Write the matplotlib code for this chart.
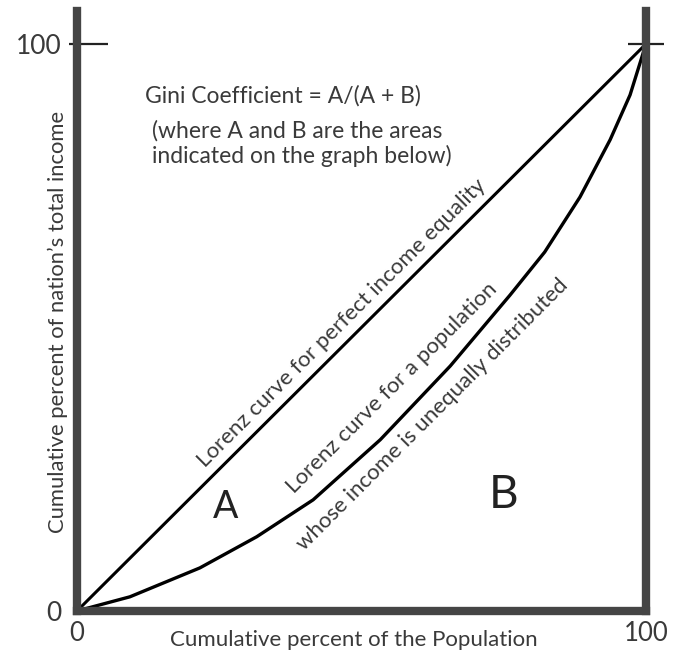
import matplotlib
matplotlib.use("Agg")
import matplotlib.pyplot as plt
from matplotlib.ticker import FixedLocator

# Datos (porcentajes acumulados)
equality_x = [0, 100]
equality_y = [0, 100]

lorenz_x = [0, 9.3, 21.6, 31.6, 41.5, 53.3, 65.6, 76.1, 82.2, 88.4, 93.7, 97.2, 100]
lorenz_y = [0, 2.5, 7.6, 13.1, 19.6, 30.2, 43.2, 55.7, 63.3, 73.0, 83.1, 91.0, 100]

tick_values = [0, 100]
tick_labels = ["0", "100"]

gini_lines = [
    "Gini Coefficient = A/(A + B)",
    "(where A and B are the areas",
    "indicated on the graph below)",
]
label_equality = "Lorenz curve for perfect income equality"
label_lorenz_1 = "Lorenz curve for a population"
label_lorenz_2 = "whose income is unequally distributed"
xlabel = "Cumulative percent of the Population"
ylabel = "Cumulative percent of nation\u2019s total income"

plt.rcParams["font.family"] = ["Lato", "DejaVu Sans"]

TEXT = "#3a3a3a"
SPINE = "#454545"

fig = plt.figure(figsize=(6.77, 6.52), dpi=100)
ax = fig.add_axes([0.1137, 0.0629, 0.8405, 0.9202])
ax.set_xlim(0, 100)
ax.set_ylim(0, 105.8)

# Curvas
ax.plot(equality_x, equality_y, color="black", lw=2.2, clip_on=False, zorder=3)
ax.plot(lorenz_x, lorenz_y, color="black", lw=2.4, clip_on=False, zorder=3,
        solid_joinstyle="round")

# Ejes gruesos
ax.spines["top"].set_visible(False)
for side in ["left", "right", "bottom"]:
    ax.spines[side].set_linewidth(6)
    ax.spines[side].set_color(SPINE)
    ax.spines[side].set_capstyle("projecting")
    ax.spines[side].set_zorder(4)

ax.set_xticks(tick_values)
ax.set_xticklabels(tick_labels)
ax.set_yticks(tick_values)
ax.set_yticklabels(tick_labels)
ax.tick_params(axis="x", length=0, pad=7, labelsize=18.5, labelcolor=TEXT)
ax.tick_params(axis="y", which="major", direction="in", length=22, width=1.6,
               color="#222222", pad=11, labelsize=19, labelcolor=TEXT)
ax.yaxis.remove_overlapping_locs = False
ax.yaxis.set_minor_locator(FixedLocator([100]))
ax.tick_params(axis="y", which="minor", direction="out", length=6, width=1.6,
               color="#222222")

# marca en 100 del lado derecho
sec = ax.secondary_yaxis("right")
sec.set_yticks([100])
sec.set_yticklabels([""])
sec.tick_params(direction="inout", length=26, width=1.6, color="#222222")
for s in sec.spines.values():
    s.set_visible(False)

# Textos
ax.text(11.95, 89.6, gini_lines[0], ha="left", va="baseline", fontsize=16.5, color=TEXT)
ax.text(13.2, 83.4, gini_lines[1], ha="left", va="baseline", fontsize=16.5, color=TEXT)
ax.text(13.2, 79.0, gini_lines[2], ha="left", va="baseline", fontsize=16.5, color=TEXT)

ax.text(46.6, 50.8, label_equality, rotation=45, ha="center", va="center",
        rotation_mode="anchor", fontsize=16, color=TEXT)
ax.text(55.4, 39.3, label_lorenz_1, rotation=45, ha="center", va="center",
        rotation_mode="anchor", fontsize=16, color=TEXT)
ax.text(62.4, 34.7, label_lorenz_2, rotation=45, ha="center", va="center",
        rotation_mode="anchor", fontsize=16, color=TEXT)

ax.text(26.2, 18.3, "A", ha="center", va="center", fontsize=27, color="#222222")
ax.text(75.0, 20.5, "B", ha="center", va="center", fontsize=33, color="#222222")

ax.text(0.487, -0.048, xlabel, transform=ax.transAxes, ha="center", va="center",
        fontsize=16, color=TEXT)
ax.text(-0.033, 0.482, ylabel, transform=ax.transAxes, rotation=90, ha="center",
        va="center", fontsize=15.8, color=TEXT)

fig.savefig("out.png", dpi=100, facecolor="white")
